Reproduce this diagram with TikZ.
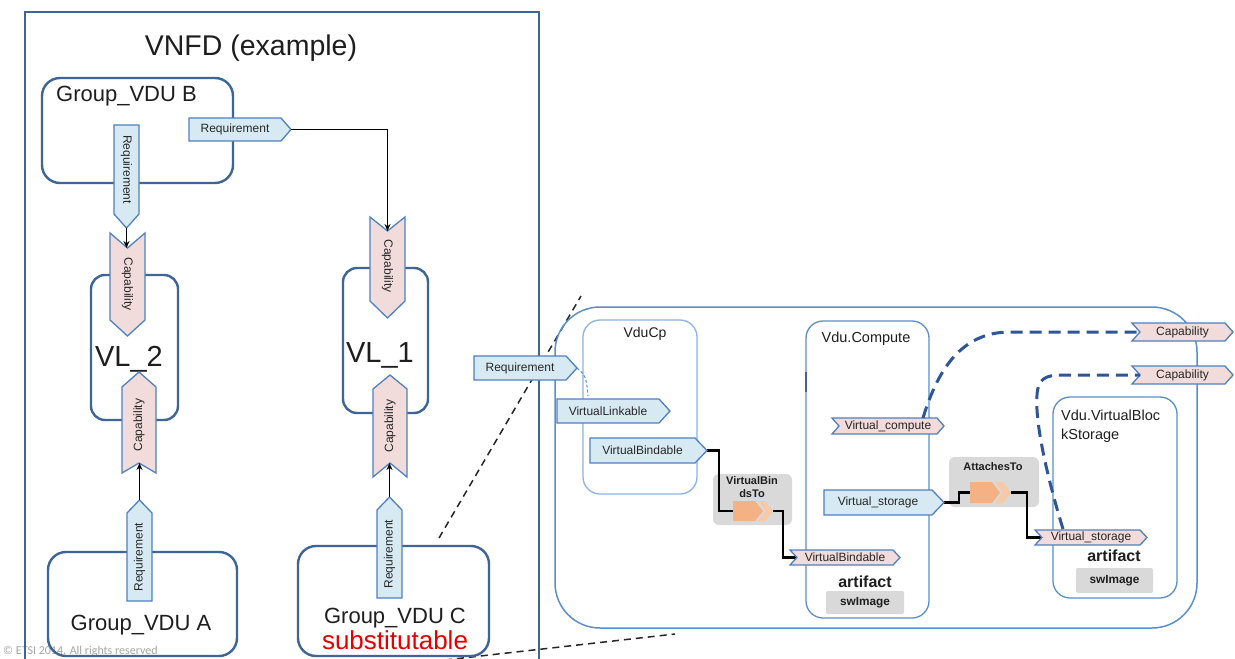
\documentclass[tikz,border=0pt]{standalone}
\usepackage{fontspec}
\setmainfont{Liberation Sans}
\newfontfamily\copyfont{Carlito}
\usetikzlibrary{arrows.meta}
\definecolor{dkblue}{HTML}{3F6496}
\definecolor{ltblue}{HTML}{5B8FC9}
\definecolor{cpblue}{HTML}{8DB3E2}
\definecolor{tagborder}{HTML}{4F81BD}
\definecolor{reqfill}{HTML}{D7EAF3}
\definecolor{capfill}{HTML}{F2DCDB}
\definecolor{grayfill}{HTML}{D9D9D9}
\definecolor{orangefill}{HTML}{F4B183}
\definecolor{orangelt}{HTML}{F8C9A4}
\definecolor{dashblue}{HTML}{2F5597}
\definecolor{txt}{HTML}{1E1E1E}

% east-pointing tag: name,x1,y1,x2,y2,fill,tipdepth,notchdepth,text
\newcommand\tagE[9]{%
 \draw[tagline,fill=#6] (#2,#3) -- ({#4-#7},#3) -- (#4,{(#3+#5)/2}) -- ({#4-#7},#5) -- (#2,#5) -- ({#2+#8},{(#3+#5)/2}) -- cycle;
 \node[tagtext] (#1) at ({(#2+#8+#4-#7)/2},{(#3+#5)/2}) {#9};
 \coordinate (#1-tip) at (#4,{(#3+#5)/2});
 \coordinate (#1-in) at ({#2+#8},{(#3+#5)/2});}
% south-pointing tag (notch on top)
\newcommand\tagS[9]{%
 \draw[tagline,fill=#6] (#2,#3) -- ({(#2+#4)/2},{#3+#8}) -- (#4,#3) -- (#4,{#5-#7}) -- ({(#2+#4)/2},#5) -- (#2,{#5-#7}) -- cycle;
 \node[tagtext,rotate=-90] (#1) at ({(#2+#4)/2},{(#3+#8+#5-#7)/2}) {#9};
 \coordinate (#1-tip) at ({(#2+#4)/2},#5);
 \coordinate (#1-in) at ({(#2+#4)/2},{#3+#8});}
% north-pointing tag (notch at bottom)
\newcommand\tagN[9]{%
 \draw[tagline,fill=#6] ({(#2+#4)/2},#3) -- (#4,{#3+#7}) -- (#4,#5) -- ({(#2+#4)/2},{#5-#8}) -- (#2,#5) -- (#2,{#3+#7}) -- cycle;
 \node[tagtext,rotate=90] (#1) at ({(#2+#4)/2},{(#3+#7+#5-#8)/2}) {#9};
 \coordinate (#1-tip) at ({(#2+#4)/2},#3);
 \coordinate (#1-in) at ({(#2+#4)/2},{#5-#8});}
% orange double chevron
\newcommand\orangechev[5]{%
 \fill[orangefill] (#2,#3) -- ({#2+22},#3) -- ({#2+30},{(#3+#5)/2}) -- ({#2+22},#5) -- (#2,#5) -- cycle;
 \fill[orangelt] ({#2+25},#3) -- ({#4-8},#3) -- (#4,{(#3+#5)/2}) -- ({#4-8},#5) -- ({#2+25},#5) -- ({#2+33},{(#3+#5)/2}) -- cycle;
 \coordinate (#1-in) at (#2,{(#3+#5)/2});
 \coordinate (#1-out) at (#4,{(#3+#5)/2});}
% box as node: name,x1,y1,x2,y2,style
\newcommand\boxnode[6]{%
 \node[#6,anchor=north west,inner sep=0pt,outer sep=0pt,minimum width={#4-#2},minimum height={#5-#3}] (#1) at (#2,#3) {};}

\begin{document}
\begin{tikzpicture}[x=1pt,y=-1pt,
 tagline/.style={draw=tagborder,line width=1.3pt,line join=miter},
 tagtext/.style={inner sep=0pt,font=\fontsize{12}{14}\selectfont,text=black!85},
 groupbox/.style={draw=dkblue,line width=2.4pt,rounded corners=18pt},
 vlbox/.style={draw=dkblue,line width=2.4pt,rounded corners=14pt},
 bigbox/.style={draw=ltblue,line width=1.5pt,rounded corners=45pt},
 innerbox/.style={draw=ltblue,line width=1.3pt,rounded corners=17pt},
 cpbox/.style={draw=cpblue,line width=1.3pt,rounded corners=17pt},
 graybox/.style={fill=grayfill,rounded corners=6pt},
 arr/.style={-{Stealth[length=7pt,width=6pt]},line width=1.1pt,black},
 bindline/.style={line width=2.6pt,black,line join=miter},
 dashcurve/.style={draw=dashblue,line width=3pt,dash pattern=on 12pt off 7pt},
 zoomline/.style={draw=black!85,line width=1.5pt,dash pattern=on 7pt off 5pt},
 bigtext/.style={inner sep=0pt,text=txt,font=\fontsize{22}{26}\selectfont},
 boldsmall/.style={inner sep=0pt,text=txt,font=\bfseries\fontsize{11}{13}\selectfont},
 midtext/.style={inner sep=0pt,text=txt,font=\fontsize{14.5}{19}\selectfont}]
\useasboundingbox (0,0) rectangle (1235,659);
\clip (0,0) rectangle (1235,659);
\fill[white] (0,0) rectangle (1235,659);

% copyright
\node[anchor=base west,inner sep=0pt,text=black!35,font=\copyfont\fontsize{12}{14}\selectfont] (copy) at (3,654) {© ETSI 2014. All rights reserved};

% zoom dashed lines
\coordinate (zA1) at (439,538);
\coordinate (zA2) at (581,296);
\coordinate (zB1) at (445,660);
\coordinate (zB2) at (675,634);
\draw[zoomline] (zA1) -- (zA2);
\draw[zoomline] (zB1) -- (zB2);

% ---------- VNFD ----------
\boxnode{vnfd}{25}{12}{539}{720}{draw=dkblue,line width=2.4pt}
\node[anchor=base,inner sep=0pt,text=txt,font=\fontsize{28.5}{32}\selectfont] (title) at (251,55) {VNFD (example)};

\boxnode{gB}{42}{78}{233}{183}{groupbox}
\node[bigtext,anchor=base west] (gBlabel) at (56,101) {Group\_VDU B};
\boxnode{vl2}{91}{275}{178}{420}{vlbox}
\node[anchor=base,inner sep=0pt,text=txt,font=\fontsize{29}{32}\selectfont] (vl2label) at (129,366) {VL\_2};
\boxnode{vl1}{343}{268}{428}{413}{vlbox}
\node[anchor=base,inner sep=0pt,text=txt,font=\fontsize{29}{32}\selectfont] (vl1label) at (380,362) {VL\_1};
\boxnode{gA}{48}{552}{237}{656}{groupbox}
\node[bigtext,anchor=base] (gAlabel) at (141,630) {Group\_VDU A};
\boxnode{gC}{298}{546}{489}{656}{groupbox}
\node[bigtext,anchor=base] (gClabel) at (395,623) {Group\_VDU C};
\node[anchor=base,inner sep=0pt,text=red!90!black,font=\fontsize{26}{30}\selectfont] (subst) at (395,649) {substitutable};

\tagE{reqBh}{189}{118}{291}{141}{reqfill}{10}{0}{Requirement}
\tagS{reqB}{114}{125}{139}{228}{reqfill}{14}{0}{Requirement}
\tagS{capVtwoT}{110}{233}{145}{336}{capfill}{16}{15}{Capability}
\tagS{capVoneT}{370}{217}{405}{318}{capfill}{17}{14}{Capability}
\tagN{capVtwoB}{122}{372}{156}{473}{capfill}{15}{10}{Capability}
\tagN{capVoneB}{373}{375}{407}{477}{capfill}{14}{14}{Capability}
\tagN{reqA}{127}{500}{152}{601}{reqfill}{13}{0}{Requirement}
\tagN{reqC}{377}{497}{402}{598}{reqfill}{13}{0}{Requirement}

\draw[arr] (reqB-tip) -- (reqB-tip |- capVtwoT-in);
\draw[arr] (reqBh-tip) -| (capVoneT-in);
\draw[arr] (reqA-tip) -- (reqA-tip |- capVtwoB-in);
\draw[arr] (reqC-tip) -- (reqC-tip |- capVoneB-in);

% ---------- detail ----------
\boxnode{big}{555}{307}{1197}{628}{bigbox}
\boxnode{vducp}{583}{320}{697}{494}{cpbox}
\node[inner sep=0pt,text=txt,font=\fontsize{14}{17}\selectfont] (vducplabel) at (645,334) {VduCp};
\boxnode{vcomp}{806}{321}{929}{618}{innerbox}
\node[midtext] (vcomplabel) at (866,339) {Vdu.Compute};
\draw[line width=2.5pt,dkblue] (806,372) -- (806,392);
\boxnode{vbs}{1053}{397}{1177}{598}{innerbox}
\node[midtext,anchor=north west,align=left] (vbslabel) at (1061,410) {Vdu.VirtualBloc\\kStorage};

% gray relationship boxes
\boxnode{vbtbox}{713}{474}{792}{525}{graybox}
\node[boldsmall,align=center] (vbtlabel) at (752,487) {VirtualBin\\dsTo};
\boxnode{atbox}{949}{457}{1039}{507}{graybox}
\node[boldsmall] (atlabel) at (993,467) {AttachesTo};
\orangechev{vbtc}{733}{501}{773}{521}
\orangechev{atc}{970}{482}{1011}{503}

% artifacts
\node[inner sep=0pt,text=txt,font=\bfseries\fontsize{16}{19}\selectfont] (art1) at (865,582) {artifact};
\boxnode{sw1}{826}{591}{904}{614}{fill=grayfill,rounded corners=2pt}
\node[boldsmall,font=\bfseries\fontsize{11.8}{14}\selectfont] (sw1label) at (865,602.5) {swImage};
\node[inner sep=0pt,text=txt,font=\bfseries\fontsize{16}{19}\selectfont] (art2) at (1114,556) {artifact};
\boxnode{sw2}{1076}{568}{1153}{593}{fill=grayfill,rounded corners=2pt}
\node[boldsmall,font=\bfseries\fontsize{11.8}{14}\selectfont] (sw2label) at (1114.5,580.5) {swImage};

% black binding connectors
\draw[bindline] (707,450.5) -- (719,450.5) |- (vbtc-in);
\draw[bindline] (vbtc-out) -- (783,511) |- (797,557.5);
\draw[bindline] (944,502.5) -- (959,502.5) |- (atc-in);
\draw[bindline] (atc-out) -- (1027,492.5) |- (1042,537.5);

% tags
\tagE{reqR}{474}{356}{577}{380}{reqfill}{11}{0}{Requirement}
\tagE{vlink}{557}{399}{670}{423}{reqfill}{11}{0}{VirtualLinkable}
\tagE{vbindA}{590}{438}{707}{463}{reqfill}{12}{0}{VirtualBindable}
\tagE{vcompute}{832}{418}{944}{434}{capfill}{7}{7}{Virtual\_compute}
\tagE{vstorA}{824}{490}{944}{515}{reqfill}{12}{0}{Virtual\_storage}
\tagE{vbindB}{790}{550}{900}{565}{capfill}{7}{7}{VirtualBindable}
\tagE{vstorB}{1035}{530}{1147}{545}{capfill}{7}{7}{Virtual\_storage}
\tagE{capR1}{1132}{323}{1233}{341}{capfill}{8}{8}{Capability}
\tagE{capR2}{1132}{366}{1233}{384}{capfill}{8}{8}{Capability}

% dashed capability curves
\coordinate (dc1) at (923,418);
\coordinate (dc2) at (1063,529);
\draw[dashcurve] (dc1) .. controls (937,372) and (960,332) .. (1010,332) -- (capR1-in);
\draw[dashcurve] (dc2) .. controls (1045,470) and (1035,420) .. (1037,395) .. controls (1038,379) and (1045,375) .. (1062,375) -- (capR2-in);

% small dashed arc at requirement
\draw[ltblue,line width=1pt,dash pattern=on 3pt off 2pt] (reqR-tip) .. controls (586,376) .. (588,396);
\end{tikzpicture}
\end{document}
